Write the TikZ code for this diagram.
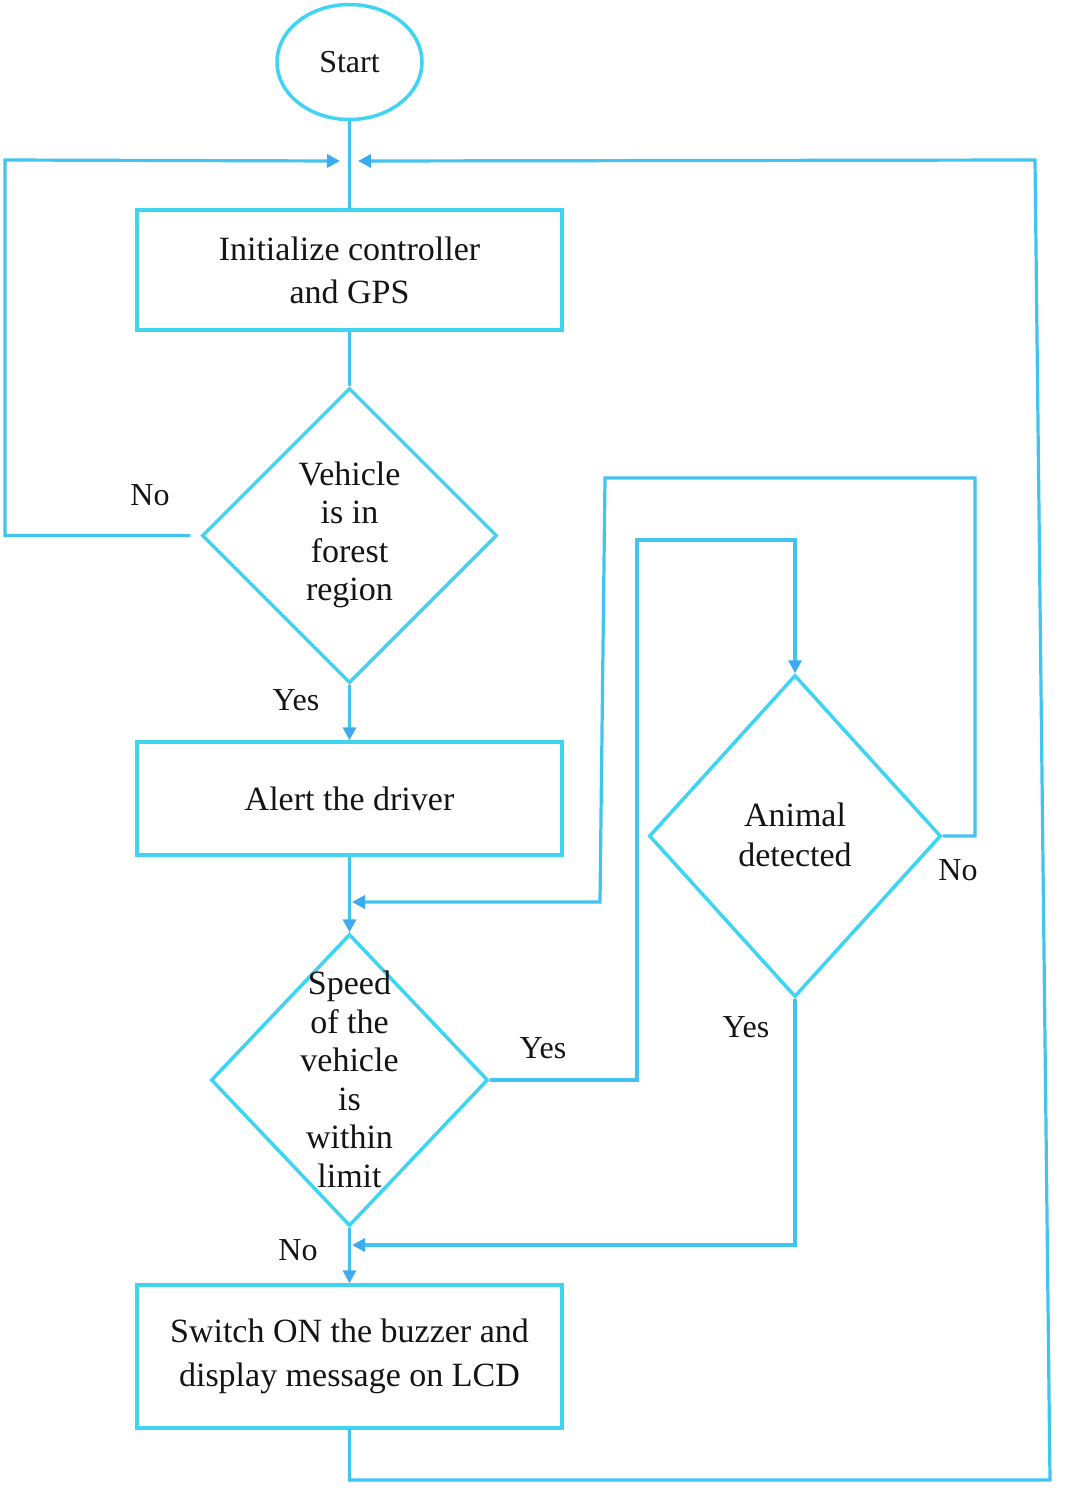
\documentclass[tikz,border=0pt]{standalone}
\usepackage{fontspec}
\setmainfont{Liberation Serif}
\usetikzlibrary{shapes.geometric,arrows.meta}
\definecolor{shapec}{RGB}{62,212,242}
\definecolor{linec}{RGB}{66,196,240}
\definecolor{tipc}{RGB}{60,172,240}
\definecolor{txt}{RGB}{20,20,20}
\begin{document}
\begin{tikzpicture}[x=1pt,y=-1pt,
  box/.style={draw=shapec,line width=3.5pt,rectangle,minimum width=425pt,inner sep=0pt,
    text=txt,align=center,font=\fontsize{34}{43}\selectfont},
  dec/.style={draw=shapec,line width=3.5pt,diamond,inner sep=0pt},
  dtext/.style={text=txt,align=center,inner sep=0pt,font=\fontsize{34}{38.5}\selectfont},
  term/.style={draw=shapec,line width=3.5pt,ellipse,inner sep=0pt,minimum width=145pt,minimum height=115pt,
    text=txt,font=\fontsize{32}{38}\selectfont},
  conn/.style={draw=linec,line width=3.2pt},
  arr/.style={-{Triangle[length=13pt,width=13pt,color=tipc]}},
  lbl/.style={text=txt,inner sep=0pt,font=\fontsize{32}{38}\selectfont}]
\useasboundingbox[fill=white] (0,0) rectangle (1067,1492);

% shapes
\node[term] (start) at (349.5,62) {Start};
\node[box,minimum height=120pt] (init) at (349.5,270) {Initialize controller\\and GPS};
\node[dec,minimum width=295pt,minimum height=295pt] (d1) at (349.5,535.5) {};
\node[dtext] (d1t) at (349.5,535) {Vehicle\\is in\\forest\\region};
\node[box,minimum height=113pt] (alert) at (349.5,798.5) {Alert the driver};
\node[dec,minimum width=277pt,minimum height=292pt] (d2) at (349.5,1080) {};
\node[dtext] (d2t) at (349.5,1079.5) {Speed\\of the\\vehicle\\is\\within\\limit};
\node[dec,minimum width=292pt,minimum height=322pt] (d3) at (795,836) {};
\node[dtext,font=\fontsize{34}{40}\selectfont] (d3t) at (795,835) {Animal\\detected};
\node[box,minimum height=143pt,font=\fontsize{34}{44}\selectfont] (switch) at (349.5,1356.5) {Switch ON the buzzer and\\display message on LCD};

% labels
\node[lbl] (l1) at (150,495) {No};
\node[lbl] (l2) at (296,700) {Yes};
\node[lbl] (l3) at (543,1048) {Yes};
\node[lbl] (l4) at (958,870) {No};
\node[lbl] (l5) at (746,1027) {Yes};
\node[lbl] (l6) at (298,1250) {No};

% junction coordinates
\coordinate (jl) at (340,161);
\coordinate (jr) at (358,161);
\coordinate (j2) at (352,902);
\coordinate (j3) at (352,1245);

% main flow
\draw[conn] (start.south) -- (init.north);
\draw[conn] (init.south) -- (d1.north);
\draw[conn,arr] (d1.south) -- (alert.north);
\draw[conn,arr] (alert.south) -- (d2.north);
\draw[conn,arr] (d2.south) -- (switch.north);

% loops
\draw[conn,arr] ([xshift=-10pt]d1.west) -- (5,535.5) -- (5,160) -- (jl);
\draw[conn,arr] (switch.south) -- (349.5,1480) -- (1050,1480) -- (1035,160) -- (jr);
\draw[conn,arr] (d2.east) -- (637,1080) -- (637,540) -- (795,540) -- (d3.north);
\draw[conn,arr] (d3.east) -- (975,836) -- (975,478) -- (605,478) -- (600,902) -- (j2);
\draw[conn,arr] (d3.south) -- (795,1245) -- (j3);
\end{tikzpicture}
\end{document}
